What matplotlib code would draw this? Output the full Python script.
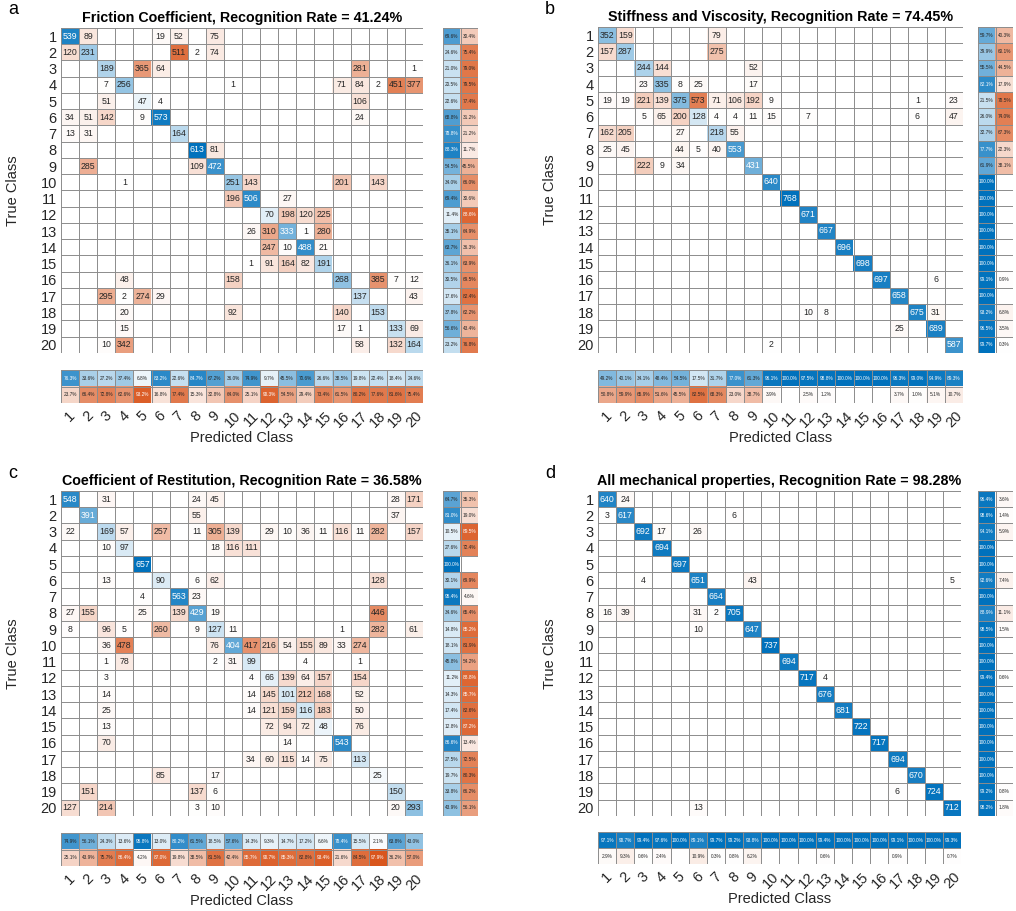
import numpy as np
import matplotlib
matplotlib.use('Agg')
import matplotlib.pyplot as plt

plt.rcParams['font.family'] = ['Liberation Sans', 'DejaVu Sans']

W, H = 1016, 911
classes = [str(i) for i in range(1, 21)]

# confusion counts, one dict per true class: {predicted class: count}
friction = [
    {1: 539, 2: 89, 6: 19, 7: 52, 9: 75},
    {1: 120, 2: 231, 7: 511, 8: 2, 9: 74},
    {3: 189, 5: 365, 6: 64, 17: 281, 20: 1},
    {3: 7, 4: 256, 10: 1, 16: 71, 17: 84, 18: 2, 19: 451, 20: 377},
    {3: 51, 5: 47, 6: 4, 17: 106},
    {1: 34, 2: 51, 3: 142, 5: 9, 6: 573, 17: 24},
    {1: 13, 2: 31, 7: 164},
    {8: 613, 9: 81},
    {2: 285, 8: 109, 9: 472},
    {4: 1, 10: 251, 11: 143, 16: 201, 18: 143},
    {10: 196, 11: 506, 13: 27},
    {12: 70, 13: 198, 14: 120, 15: 225},
    {11: 26, 12: 310, 13: 333, 14: 1, 15: 280},
    {12: 247, 13: 10, 14: 488, 15: 21},
    {11: 1, 12: 91, 13: 164, 14: 82, 15: 191},
    {4: 48, 10: 158, 16: 268, 18: 385, 19: 7, 20: 12},
    {3: 295, 4: 2, 5: 274, 6: 29, 17: 137, 20: 43},
    {4: 20, 10: 92, 16: 140, 18: 153},
    {4: 15, 16: 17, 17: 1, 19: 133, 20: 69},
    {3: 10, 4: 342, 17: 58, 19: 132, 20: 164},
]

stiffness = [
    {1: 352, 2: 159, 7: 79},
    {1: 157, 2: 287, 7: 275},
    {3: 244, 4: 144, 9: 52},
    {3: 23, 4: 335, 5: 8, 6: 25, 9: 17},
    {1: 19, 2: 19, 3: 221, 4: 139, 5: 375, 6: 573, 7: 71, 8: 106, 9: 192, 10: 9, 18: 1, 20: 23},
    {3: 5, 4: 65, 5: 200, 6: 128, 7: 4, 8: 4, 9: 11, 10: 15, 12: 7, 18: 6, 20: 47},
    {1: 162, 2: 205, 5: 27, 7: 218, 8: 55},
    {1: 25, 2: 45, 5: 44, 6: 5, 7: 40, 8: 553},
    {3: 222, 4: 9, 5: 34, 9: 431},
    {10: 640},
    {11: 768},
    {12: 671},
    {13: 667},
    {14: 696},
    {15: 698},
    {16: 697, 19: 6},
    {17: 658},
    {12: 10, 13: 8, 18: 675, 19: 31},
    {17: 25, 19: 689},
    {10: 2, 20: 587},
]

restitution = [
    {1: 548, 3: 31, 8: 24, 9: 45, 19: 28, 20: 171},
    {2: 391, 8: 55, 19: 37},
    {1: 22, 3: 169, 4: 57, 6: 257, 8: 11, 9: 305, 10: 139, 12: 29, 13: 10, 14: 36,
     15: 11, 16: 116, 17: 11, 18: 282, 20: 157},
    {3: 10, 4: 97, 9: 18, 10: 116, 11: 111},
    {5: 657},
    {3: 13, 6: 90, 8: 6, 9: 62, 18: 128},
    {5: 4, 7: 563, 8: 23},
    {1: 27, 2: 155, 5: 25, 7: 139, 8: 429, 9: 19, 18: 446},
    {1: 8, 3: 96, 4: 5, 6: 260, 8: 9, 9: 127, 10: 11, 16: 1, 18: 282, 20: 61},
    {3: 36, 4: 478, 9: 76, 10: 404, 11: 417, 12: 216, 13: 54, 14: 155, 15: 89, 16: 33, 17: 274},
    {3: 1, 4: 78, 9: 2, 10: 31, 11: 99, 14: 4, 17: 1},
    {3: 3, 11: 4, 12: 66, 13: 139, 14: 64, 15: 157, 17: 154},
    {3: 14, 11: 14, 12: 145, 13: 101, 14: 212, 15: 168, 17: 52},
    {3: 25, 11: 14, 12: 121, 13: 159, 14: 116, 15: 183, 17: 50},
    {3: 13, 12: 72, 13: 94, 14: 72, 15: 48, 17: 76},
    {3: 70, 13: 14, 16: 543},
    {11: 34, 12: 60, 13: 115, 14: 14, 15: 75, 17: 113},
    {6: 85, 9: 17, 18: 25},
    {2: 151, 8: 137, 9: 6, 19: 150},
    {1: 127, 3: 214, 8: 3, 9: 10, 19: 20, 20: 293},
]

combined = [
    {1: 640, 2: 24},
    {1: 3, 2: 617, 8: 6},
    {3: 692, 4: 17, 6: 26},
    {4: 694},
    {5: 697},
    {3: 4, 6: 651, 9: 43, 20: 5},
    {7: 664},
    {1: 16, 2: 39, 6: 31, 7: 2, 8: 705},
    {6: 10, 9: 647},
    {10: 737},
    {11: 694},
    {12: 717, 13: 4},
    {13: 676},
    {14: 681},
    {15: 722},
    {16: 717},
    {17: 694},
    {18: 670},
    {17: 6, 19: 724},
    {6: 13, 20: 712},
]

titles = [
    'Friction Coefficient, Recognition Rate = 41.24%',
    'Stiffness and Viscosity, Recognition Rate = 74.45%',
    'Coefficient of Restitution, Recognition Rate = 36.58%',
    'All mechanical properties, Recognition Rate = 98.28%',
]

BLUE = np.array([0.0, 0.447, 0.741])
ORANGE = np.array([0.85, 0.325, 0.098])
GRID = '#8c8c8c'
INK = '#262626'


def to_matrix(rows):
    m = np.zeros((20, 20), dtype=int)
    for i, row in enumerate(rows):
        for j, v in row.items():
            m[i, j - 1] = v
    return m


def shade(base, t):
    return 1 - t * (1 - base)


def box(x0, y0, x1, y1):
    return [x0 / W, 1 - y1 / H, (x1 - x0) / W, (y1 - y0) / H]


def grid_cells(ax, rgb):
    nr, nc = rgb.shape[:2]
    ax.imshow(rgb, aspect='auto', interpolation='nearest',
              extent=(0.5, nc + 0.5, nr + 0.5, 0.5))
    for k in range(nc + 1):
        ax.axvline(k + 0.5, color=GRID, lw=0.7)
    for k in range(nr + 1):
        ax.axhline(k + 0.5, color=GRID, lw=0.7)
    ax.set_xlim(0.5, nc + 0.5)
    ax.set_ylim(nr + 0.5, 0.5)
    for s in ax.spines.values():
        s.set_visible(False)
    ax.set_xticks([])
    ax.set_yticks([])


def summary_cell(pct, base, thresh):
    t = pct / 100
    return shade(base, t), ('white' if t > thresh else INK)


def panel(fig, rows, title, letter, mat, rsum, csum):
    m = to_matrix(rows)
    top = m.max()
    rgb = np.ones((20, 20, 3))
    ax = fig.add_axes(box(*mat))
    for i in range(20):
        for j in range(20):
            if m[i, j]:
                rgb[i, j] = shade(BLUE if i == j else ORANGE, m[i, j] / top)
    grid_cells(ax, rgb)
    for i in range(20):
        for j in range(20):
            v = m[i, j]
            if v == 0:
                continue
            t = v / top
            white = (t > 0.5) if i == j else (t > 0.9)
            ax.text(j + 1, i + 1, str(v), ha='center', va='center', fontsize=6.3,
                    color='white' if white else INK)
    ax.set_yticks(range(1, 21))
    ax.set_yticklabels(classes, fontsize=10.5)
    ax.tick_params(axis='y', length=0, pad=3, colors=INK)
    ax.set_title(title, fontsize=10.3, fontweight='bold', pad=4)

    # per true class: correct / incorrect
    correct = np.diag(m) / m.sum(axis=1) * 100
    ax_r = fig.add_axes(box(*rsum))
    rgb_r = np.ones((20, 2, 3))
    cells = []
    for i in range(20):
        c, tc = summary_cell(correct[i], BLUE, 0.75)
        rgb_r[i, 0] = c
        cells.append((1, i + 1, correct[i], tc))
        w = 100 - correct[i]
        if w > 0.05:
            c, tc = summary_cell(w, ORANGE, 0.85)
            rgb_r[i, 1] = c
            cells.append((2, i + 1, w, tc))
    grid_cells(ax_r, rgb_r)
    for x, y, p, tc in cells:
        ax_r.text(x, y, f'{p:.1f}%', ha='center', va='center', fontsize=3.4, color=tc)

    # per predicted class: correct / incorrect
    precision = np.diag(m) / m.sum(axis=0) * 100
    ax_c = fig.add_axes(box(*csum))
    rgb_c = np.ones((2, 20, 3))
    cells = []
    for j in range(20):
        c, tc = summary_cell(precision[j], BLUE, 0.75)
        rgb_c[0, j] = c
        cells.append((j + 1, 1, precision[j], tc))
        w = 100 - precision[j]
        if w > 0.05:
            c, tc = summary_cell(w, ORANGE, 0.85)
            rgb_c[1, j] = c
            cells.append((j + 1, 2, w, tc))
    grid_cells(ax_c, rgb_c)
    for x, y, p, tc in cells:
        ax_c.text(x, y, f'{p:.1f}%', ha='center', va='center', fontsize=3.4, color=tc)
    ax_c.set_xticks(range(1, 21))
    ax_c.set_xticklabels(classes, fontsize=10.5, rotation=45, ha='center', va='top')
    ax_c.tick_params(axis='x', length=0, pad=4, colors=INK)

    cx = (mat[0] + mat[2]) / 2
    fig.text(cx / W, 1 - (csum[3] + 35) / H, 'Predicted Class', ha='center',
             va='center', fontsize=10.5, color=INK)
    fig.text((mat[0] - 48) / W, 1 - ((mat[1] + mat[3]) / 2) / H, 'True Class',
             ha='center', va='center', rotation=90, fontsize=10.5, color=INK)
    fig.text((mat[0] - 53) / W, 1 - (mat[1] - 18) / H, letter, ha='left',
             va='center', fontsize=13)


fig = plt.figure(figsize=(W / 100, H / 100), dpi=100)

panel(fig, friction, titles[0], 'a',
      (61, 28, 423, 353), (443, 28, 478, 353), (61, 370, 423, 403))
panel(fig, stiffness, titles[1], 'b',
      (598, 27, 963, 353), (978, 27, 1013, 353), (598, 370, 963, 403))
panel(fig, restitution, titles[2], 'c',
      (61, 491, 423, 816), (443, 491, 478, 816), (61, 833, 423, 866))
panel(fig, combined, titles[3], 'd',
      (598, 491, 961, 816), (978, 491, 1013, 816), (598, 832, 961, 864))

fig.savefig('out.png', dpi=100)
